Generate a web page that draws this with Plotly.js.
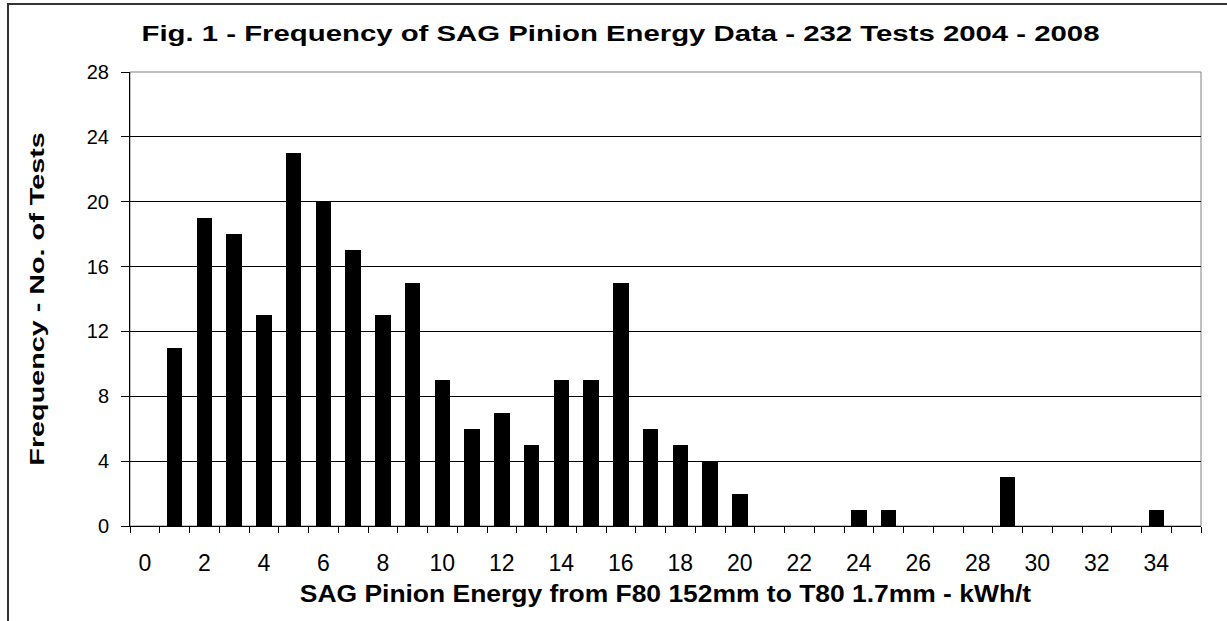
<!DOCTYPE html>
<html>
<head>
<meta charset="utf-8">
<script src="https://cdn.plot.ly/plotly-3.0.1.min.js"></script>
<style>
  html, body { margin: 0; padding: 0; background: #fff; }
  #wrap { position: relative; width: 1227px; height: 621px; overflow: hidden; }
  #chart { width: 1227px; height: 621px; }
  #frame { position: absolute; left: 7px; top: 3px; width: 1300px; height: 700px;
           border-left: 2px solid #333; border-top: 2px solid #333; pointer-events: none; }
</style>
</head>
<body>
<div id="wrap">
  <div id="chart"></div>
  <div id="frame"></div>
</div>
<script>
// Energy bins (kWh/t)
const energyBins = [0,1,2,3,4,5,6,7,8,9,10,11,12,13,14,15,16,17,18,19,20,21,22,23,24,25,26,27,28,29,30,31,32,33,34,35];
// Frequency (number of tests) per bin
const frequency  = [0,11,19,18,13,23,20,17,13,15,9,6,7,5,9,9,15,6,5,4,2,0,0,0,1,1,0,0,0,3,0,0,0,0,1,0];
// Tick labels
const xTickVals = [0,2,4,6,8,10,12,14,16,18,20,22,24,26,28,30,32,34];
const yTickVals = [0,4,8,12,16,20,24,28];

const titleText = "Fig. 1 - Frequency of SAG Pinion Energy Data - 232 Tests 2004 - 2008";
const xTitle = "SAG Pinion Energy from F80 152mm to T80 1.7mm - kWh/t";
const yTitle = "Frequency - No. of Tests";

const FONT = "Liberation Sans, Arial, Helvetica, sans-serif";

const trace = {
  type: "bar",
  x: energyBins,
  y: frequency,
  width: 0.52,
  marker: { color: "#000000", line: { width: 0 } },
  hoverinfo: "x+y"
};

const layout = {
  width: 1227,
  height: 621,
  margin: { l: 130, r: 26, t: 72, b: 95, pad: 0 },
  paper_bgcolor: "#ffffff",
  plot_bgcolor: "#ffffff",
  showlegend: false,
  font: { family: FONT, color: "#000", size: 20 },
  title: {
    text: titleText,
    font: { family: FONT, size: 22, color: "#000", weight: "bold" },
    x: 620.5 / 1227, xref: "container", xanchor: "center",
    y: 1 - 33 / 621, yref: "container", yanchor: "middle"
  },
  xaxis: {
    type: "linear",
    range: [-0.5, 35.5],
    tickmode: "array",
    tickvals: xTickVals,
    ticktext: xTickVals.map(String),
    ticks: "",
    showgrid: false,
    zeroline: false,
    showline: true,
    linecolor: "#000",
    linewidth: 1,
    tickfont: { family: FONT, size: 23, color: "#000" },
    ticklabelstandoff: 16,
    minor: { tickmode: "linear", tick0: -0.5, dtick: 1, ticks: "outside", ticklen: 6, tickcolor: "#000", tickwidth: 1, showgrid: false },
    title: { text: xTitle, font: { family: FONT, size: 23, color: "#000", weight: "bold" }, standoff: 11 },
    fixedrange: true
  },
  yaxis: {
    range: [0, 28],
    tickmode: "array",
    tickvals: yTickVals,
    ticks: "outside",
    ticklen: 8,
    tickcolor: "#000",
    tickwidth: 1,
    showgrid: true,
    gridcolor: "#000",
    gridwidth: 1,
    zeroline: false,
    showline: true,
    linecolor: "#000",
    linewidth: 1,
    tickfont: { family: FONT, size: 20, color: "#000" },
    ticklabelstandoff: 8,
    title: { text: yTitle, font: { family: FONT, size: 21, color: "#000", weight: "bold" }, standoff: 36 },
    fixedrange: true
  },
  shapes: [
    { type: "rect", xref: "paper", yref: "paper", x0: 0, x1: 1, y0: 0, y1: 1,
      line: { color: "#808080", width: 1 }, fillcolor: "rgba(0,0,0,0)", layer: "below" }
  ],
  bargap: 0
};

// Horizontal glyph stretch to mimic the wide text rendering of the original image
function stretchText(el, sx) {
  const x = parseFloat(el.getAttribute("x")) || 0;
  const y = parseFloat(el.getAttribute("y")) || 0;
  const t = el.getAttribute("transform") || "";
  el.setAttribute("transform", (t + " translate(" + x + "," + y + ") scale(" + sx + ",1) translate(" + (-x) + "," + (-y) + ")").trim());
}

Plotly.newPlot("chart", [trace], layout, { displayModeBar: false, staticPlot: true }).then(function (gd) {
  gd.querySelectorAll(".gtitle").forEach(function (el) { stretchText(el, 1.334); });
  gd.querySelectorAll(".ytitle").forEach(function (el) { stretchText(el, 1.37); });
  gd.querySelectorAll(".xtitle").forEach(function (el) { stretchText(el, 1.15); });
});
</script>
</body>
</html>
